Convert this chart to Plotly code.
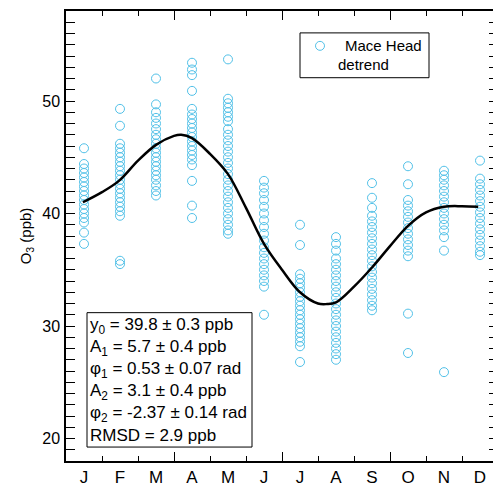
import plotly.graph_objects as go

# ---------------- data ----------------
months = ["J", "F", "M", "A", "M", "J", "J", "A", "S", "O", "N", "D"]

jan = [45.8, 44.4, 44.0, 43.6, 43.2, 42.8, 42.4, 42.0, 41.6, 41.2, 40.8, 40.4, 40.0, 39.6, 39.2, 38.3, 37.3]
feb = [49.3, 47.8, 46.2, 45.8, 45.4, 45.0, 44.6, 44.2, 43.8, 43.4, 43.0, 42.6, 42.2, 41.8, 41.4, 41.0, 40.6, 40.2, 39.8, 35.8, 35.5]
mar = [52.0, 49.7, 49.0, 48.5, 48.0, 47.5, 47.0, 46.6, 46.2, 45.8, 45.4, 45.0, 44.6, 44.2, 43.8, 43.4, 43.0, 42.5, 42.0, 41.6]
apr = [53.4, 52.8, 52.3, 50.9, 49.3, 48.8, 48.4, 48.0, 47.6, 47.2, 46.8, 46.4, 46.0, 45.6, 45.2, 44.8, 44.3, 42.9, 40.7, 39.6]
may = [53.7, 50.2, 49.8, 49.4, 49.0, 48.6, 48.2, 47.5, 47.0, 46.5, 46.0, 45.5, 45.0, 44.5, 44.0, 43.5, 43.0, 42.5, 42.0, 41.5, 41.0, 40.5, 40.0, 39.5, 39.0, 38.5, 38.2]
jun = [42.9, 42.3, 41.8, 41.2, 40.6, 40.0, 39.4, 38.8, 38.2, 37.6, 37.0, 36.5, 36.0, 35.5, 35.0, 34.5, 34.0, 33.5, 31.0]
jul = [39.0, 37.2, 34.6, 34.2, 33.8, 33.4, 33.0, 32.6, 32.2, 31.8, 31.4, 31.0, 30.6, 30.2, 29.8, 29.4, 29.0, 28.6, 28.2, 26.8]
aug = [37.9, 37.3, 36.7, 36.0, 35.5, 35.0, 34.5, 34.0, 33.5, 33.0, 32.5, 32.0, 31.5, 31.0, 30.5, 30.0, 29.5, 29.0, 28.5, 28.0, 27.5, 27.0]
sep = [42.7, 41.4, 40.5, 39.8, 39.3, 38.8, 38.3, 37.8, 37.3, 36.8, 36.3, 35.8, 35.3, 34.8, 34.3, 33.8, 33.3, 32.8, 32.3, 31.8, 31.4]
octo = [44.2, 42.6, 41.2, 40.7, 40.2, 39.7, 39.2, 38.7, 38.2, 37.7, 37.2, 36.7, 36.2, 31.1, 27.6]
nov = [43.8, 43.4, 43.0, 42.5, 42.0, 41.5, 41.0, 40.5, 40.0, 39.5, 39.0, 38.5, 37.9, 36.7, 25.9]
dec = [44.7, 43.1, 42.6, 42.1, 41.6, 41.1, 40.6, 40.1, 39.6, 39.1, 38.6, 38.1, 37.6, 37.1, 36.6, 36.3]

monthly_values = [jan, feb, mar, apr, may, jun, jul, aug, sep, octo, nov, dec]

# detrend fit curve, x in months from 1 Jan
curve_x = [0.47, 1.0, 1.47, 2.0, 2.5, 3.0, 3.2, 3.5, 4.0, 4.5, 5.0, 5.5, 6.0, 6.5,
           7.0, 7.25, 7.5, 8.0, 8.5, 9.0, 9.5, 10.0, 10.5, 11.0, 11.45]
curve_y = [41.0, 41.9, 42.9, 44.7, 46.1, 46.9, 47.0, 46.7, 45.3, 43.5, 40.5, 37.3, 35.0, 33.0,
           32.0, 31.95, 32.1, 33.5, 35.2, 37.1, 38.9, 40.1, 40.6, 40.65, 40.6]

stats_lines = [
    "y<sub>0</sub> = 39.8 ± 0.3 ppb",
    "A<sub>1</sub> = 5.7 ± 0.4 ppb",
    "φ<sub>1</sub> = 0.53 ± 0.07 rad",
    "A<sub>2</sub> = 3.1 ± 0.4 ppb",
    "φ<sub>2</sub> = -2.37 ± 0.14 rad",
    "RMSD = 2.9 ppb",
]

# ---------------- figure ----------------
FONT = "Liberation Sans, Arial, Helvetica, sans-serif"
CYAN = "#52C1E8"

# the page body adds an 8 px offset, so the figure is sized to the visible area
OFF = 8
W, H = 501 - OFF, 489 - OFF
ML, MR, MT, MB = 66 - OFF, 3, 9 - OFF, 28
PW, PH = W - ML - MR, H - MT - MB


def px(xp):
    # xp: target pixel in the 501x489 screenshot
    return (xp - OFF - ML) / PW


def py(yp):
    return (H - MB - (yp - OFF)) / PH


fig = go.Figure()

xs, ys = [], []
for i, vals in enumerate(monthly_values):
    xs += [i + 0.5] * len(vals)
    ys += vals

fig.add_trace(go.Scatter(
    x=xs, y=ys, mode="markers",
    marker=dict(symbol="circle-open", size=9, color=CYAN, line=dict(width=1, color=CYAN)),
    showlegend=False, hoverinfo="skip",
))

fig.add_trace(go.Scatter(
    x=curve_x, y=curve_y, mode="lines",
    line=dict(color="black", width=2.5, shape="spline", smoothing=1.0),
    showlegend=False, hoverinfo="skip",
))

# invisible trace on the label axis so it is drawn
fig.add_trace(go.Scatter(x=[0.5], y=[None], xaxis="x2", mode="markers",
                         showlegend=False, hoverinfo="skip"))

fig.update_layout(
    width=W, height=H,
    margin=dict(l=ML, r=MR, t=MT, b=MB, pad=0),
    paper_bgcolor="white", plot_bgcolor="white",
    font=dict(family=FONT, size=16, color="black"),
    xaxis=dict(
        range=[0, 12], showgrid=False, zeroline=False,
        showline=True, linecolor="black", linewidth=1.5, mirror="allticks",
        tickmode="array", tickvals=[0, 3, 6, 9, 12],
        ticks="inside", ticklen=9, tickwidth=1.2, tickcolor="black",
        showticklabels=False,
        minor=dict(tickmode="linear", tick0=0, dtick=1, ticks="inside",
                   ticklen=5, tickwidth=1.2, tickcolor="black", showgrid=False),
    ),
    xaxis2=dict(
        range=[0, 12], overlaying="x", side="bottom", anchor="y",
        showgrid=False, zeroline=False, showline=False,
        tickmode="array", tickvals=[i + 0.5 for i in range(12)], ticktext=months,
        ticks="", ticklabelstandoff=4,
        tickfont=dict(family=FONT, size=17, color="black"),
    ),
    yaxis=dict(
        range=[18, 58], showgrid=False, zeroline=False,
        showline=True, linecolor="black", linewidth=1.5, mirror="allticks",
        tickmode="linear", tick0=20, dtick=10,
        ticks="inside", ticklen=9, tickwidth=1.2, tickcolor="black",
        tickfont=dict(family=FONT, size=16, color="black"),
        ticklabelstandoff=1,
        minor=dict(tickmode="linear", tick0=18, dtick=1, ticks="inside",
                   ticklen=5, tickwidth=1.2, tickcolor="black", showgrid=False),
        title=dict(text="O<sub>3</sub> (ppb)", font=dict(family=FONT, size=15), standoff=7),
    ),
)

shapes = []
# legend box
shapes.append(dict(type="rect", xref="paper", yref="paper",
                   x0=px(300), x1=px(429), y0=py(76), y1=py(31),
                   line=dict(color="black", width=1), fillcolor="white", layer="above"))
shapes.append(dict(type="circle", xref="paper", yref="paper",
                   x0=px(315.5), x1=px(324.5), y0=py(48.5), y1=py(39.5),
                   line=dict(color=CYAN, width=1), layer="above"))
# stats box
shapes.append(dict(type="rect", xref="paper", yref="paper",
                   x0=px(87), x1=px(252), y0=py(447), y1=py(312),
                   line=dict(color="black", width=1), fillcolor="white", layer="above"))
fig.update_layout(shapes=shapes)

annotations = [
    dict(text="Mace Head", xref="paper", yref="paper", x=px(343), y=py(44),
         xanchor="left", yanchor="middle", showarrow=False,
         font=dict(family=FONT, size=15, color="black")),
    dict(text="detrend", xref="paper", yref="paper", x=px(336), y=py(63),
         xanchor="left", yanchor="middle", showarrow=False,
         font=dict(family=FONT, size=15, color="black")),
    dict(text="<br>".join(stats_lines), xref="paper", yref="paper",
         x=px(88), y=py(379.5), xanchor="left", yanchor="middle", align="left",
         showarrow=False, font=dict(family=FONT, size=17, color="black")),
]
fig.update_layout(annotations=annotations)

fig.write_html("out.html")
